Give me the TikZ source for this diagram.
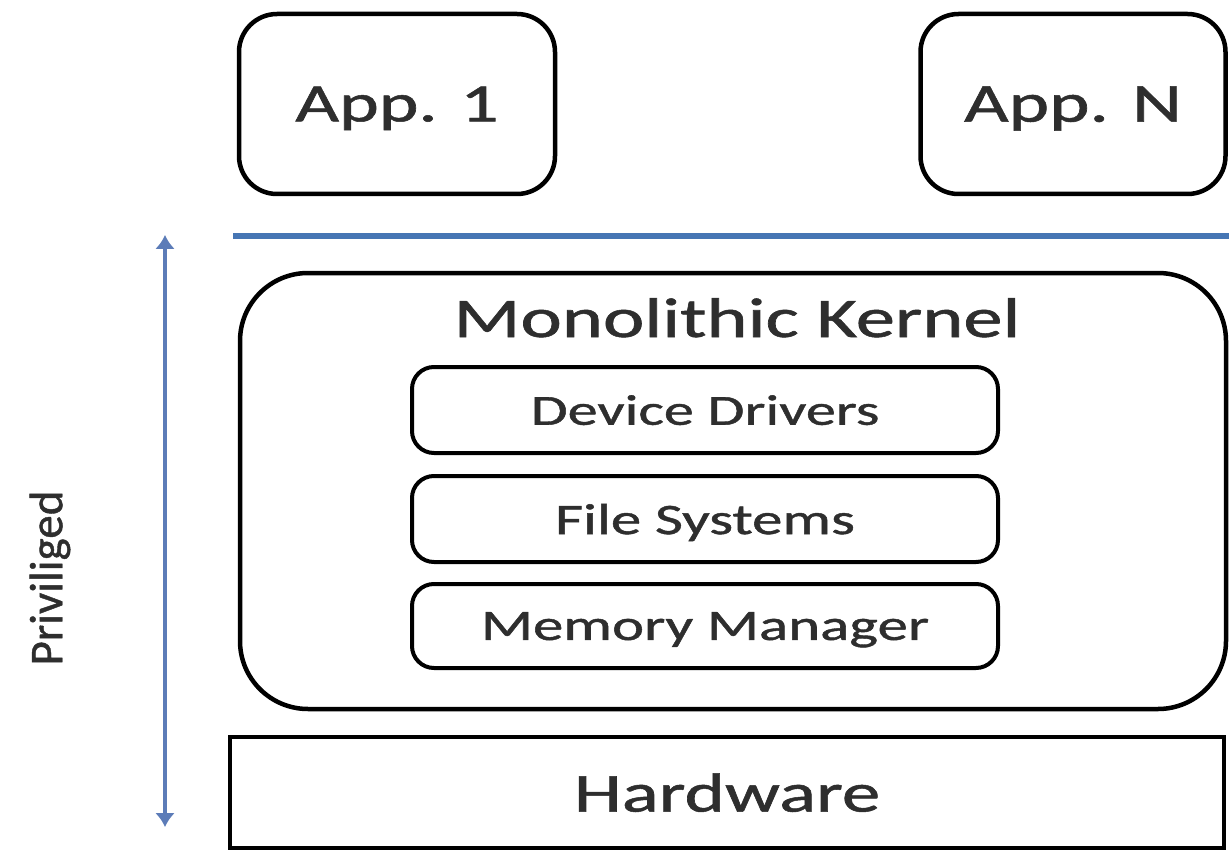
\documentclass[tikz,border=0pt]{standalone}
\usepackage{fontspec}
\setmainfont{Carlito}[FakeBold=0.9]
\usetikzlibrary{arrows.meta}
\definecolor{txt}{HTML}{2E2E2E}
\definecolor{ringblue}{RGB}{70,118,180}
\definecolor{arrowblue}{RGB}{92,124,184}
\newcommand{\wtext}[2]{\scalebox{1.4}[1]{\fontsize{#1}{#1}\selectfont #2}}
\tikzset{
  appbox/.style={draw=black, line width=4.5pt, rounded corners=38pt, inner sep=0pt,
    text=txt, text depth=0pt},
  layerbox/.style={draw=black, line width=4pt, rounded corners=22pt, inner sep=0pt,
    minimum width=586pt, text=txt, text depth=0pt},
  kernelbox/.style={draw=black, line width=4.5pt, rounded corners=68pt, inner sep=0pt},
  hwbox/.style={draw=black, line width=4pt, inner sep=0pt, text=txt, text depth=0pt},
  label/.style={text=txt, inner sep=0pt},
}
\begin{document}
\begin{tikzpicture}[x=1pt, y=-1pt]
  \useasboundingbox (0,0) rectangle (1229,853);

  % user-space applications
  \node[appbox, minimum width=316pt, minimum height=180pt] (app1) at (397,104) {\wtext{54}{App. 1}};
  \node[appbox, minimum width=305pt, minimum height=180pt] (appN) at (1073,104) {\wtext{55}{App. N}};

  % user / kernel boundary
  \coordinate (sepL) at (233,236);
  \coordinate (sepR) at (1229,236);
  \draw[ringblue, line width=6pt] (sepL) -- (sepR);

  % kernel and its subsystems
  \node[kernelbox, minimum width=986pt, minimum height=436pt] (kernel) at (733,491) {};
  \node[label, anchor=base] (ktitle) at (737,337) {\wtext{56}{Monolithic Kernel}};
  \node[layerbox, minimum height=86pt] (dev) at (705,410) {\wtext{43}{Device Drivers}};
  \node[layerbox, minimum height=86pt] (fs) at (705,519) {\wtext{43.5}{File Systems}};
  \node[layerbox, minimum height=84pt] (mem) at (705,626) {\wtext{43.5}{Memory Manager}};

  % hardware layer
  \node[hwbox, minimum width=994pt, minimum height=111pt] (hw) at (727,792.5) {\wtext{55}{Hardware}};

  % privileged range
  \coordinate (privTop) at (165,235);
  \coordinate (privBot) at (165,827);
  \draw[arrowblue, line width=4.5pt, {Latex[length=14pt,width=20pt]}-{Latex[length=14pt,width=20pt]}] (privTop) -- (privBot);
  \node[label, rotate=90] (priv) at (50,578) {\fontsize{47}{47}\selectfont Priviliged};
\end{tikzpicture}
\end{document}
